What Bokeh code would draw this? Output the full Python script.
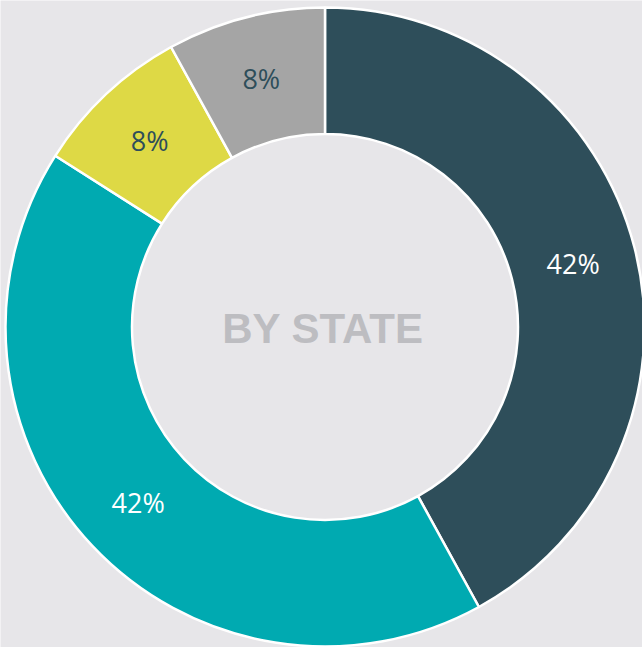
import math
from bokeh.plotting import figure
from bokeh.models import Range1d, ColumnDataSource
from bokeh.core.properties import value
from bokeh.embed import file_html
from bokeh.resources import INLINE

# Data
categories = ["A", "B", "C", "D"]
shares = [42, 42, 8, 8]
labels = ["42%", "42%", "8%", "8%"]
colors = ["#2E4E5A", "#00AAB1", "#DED945", "#A5A5A5"]
label_colors = ["#FFFFFF", "#FFFFFF", "#2E4E5A", "#2E4E5A"]
center_title = "BY STATE"

W, H = 642, 647
cx, cy = 324.5, H - 326.5
r_out, r_in = 319.5, 193

total = float(sum(shares))
starts, ends, lx, ly = [], [], [], []
acc = 0.0
for v in shares:
    a0 = math.pi / 2 - 2 * math.pi * acc / total
    acc += v
    a1 = math.pi / 2 - 2 * math.pi * acc / total
    starts.append(a0)
    ends.append(a1)
    mid = (a0 + a1) / 2
    rm = (r_out + r_in) / 2
    lx.append(cx + rm * math.cos(mid))
    ly.append(cy + rm * math.sin(mid))

src = ColumnDataSource(dict(cat=categories, start=starts, end=ends, color=colors,
                            x=[cx] * 4, y=[cy] * 4, lx=lx, ly=ly, label=labels,
                            lcolor=label_colors))

bg = "#E7E6E9"
p = figure(width=W, height=H, output_backend="svg", toolbar_location=None,
           x_range=Range1d(0, W), y_range=Range1d(0, H), min_border=0)
p.axis.visible = False
p.grid.visible = False
p.outline_line_color = None
p.background_fill_color = bg
p.border_fill_color = bg

p.annular_wedge(x="x", y="y", inner_radius=r_in, outer_radius=r_out,
                start_angle="end", end_angle="start", fill_color="color",
                line_color="white", line_width=2.5, source=src)

p.text(x="lx", y="ly", text="label", text_color="lcolor", source=src,
       text_font=value("Open Sans"), text_font_size="27px",
       text_align="center", text_baseline="middle")

p.text(x=[cx - 2], y=[H - 328], text=[center_title], text_color="#BDBDC1",
       text_font=value("Liberation Sans"), text_font_style="bold",
       text_font_size="42px", text_align="center", text_baseline="middle")

open("out.html", "w").write(file_html(p, INLINE))
